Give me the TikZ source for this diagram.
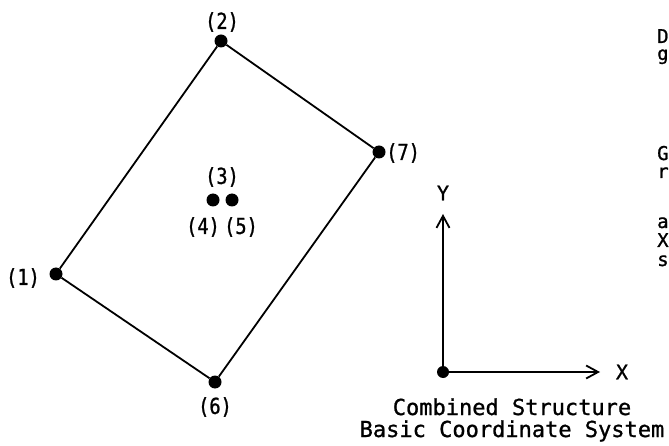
\documentclass[tikz,border=0pt]{standalone}
\usepackage{fontspec}
\setmainfont[FakeBold=1]{DejaVu Sans Mono}
\newfontfamily\labelfont[FakeStretch=0.85,FakeBold=1]{DejaVu Sans Mono}
\usetikzlibrary{arrows.meta}

\begin{document}
\begin{tikzpicture}[x=1pt,y=-1pt,
  pt/.style={circle,fill,inner sep=0pt,minimum size=13pt},
  lbl/.style={font=\labelfont\fontsize{22}{22}\selectfont,inner sep=0pt},
  side/.style={font=\fontsize{19}{19}\selectfont,anchor=base west,inner sep=0pt},
  capt/.style={font=\fontsize{22}{22}\selectfont,anchor=base,inner sep=0pt},
  edge/.style={line width=1.8pt},
  axis/.style={line width=1.8pt,-{Straight Barb[length=12pt,width=13pt,line width=1.8pt]}}]
  \useasboundingbox (0,0) rectangle (669,446);
  \node[pt] (n1) at (56,274) {};
  \node[pt] (n2) at (221,41) {};
  \node[pt] (n7) at (379,152) {};
  \node[pt] (n6) at (215,382) {};
  \node[pt] (n4) at (213,200) {};
  \node[pt] (n5) at (232,200) {};
  \draw[edge] (n1) -- (n2) -- (n7) -- (n6) -- (n1);
  \node[lbl] (l1) at (23,278) {(1)};
  \node[lbl] (l2) at (222,22) {(2)};
  \node[lbl] (l3) at (222,177) {(3)};
  \node[lbl] (l4) at (203,227) {(4)};
  \node[lbl] (l5) at (241,227) {(5)};
  \node[lbl] (l6) at (215,407) {(6)};
  \node[lbl,anchor=west] (l7) at (386,153) {(7)};
  % basic coordinate system
  \node[pt,minimum size=12pt] (o) at (443,372) {};
  \coordinate (ytip) at (443,214);
  \coordinate (xtip) at (600,372);
  \draw[axis] (o.center) -- (ytip);
  \draw[axis] (o.center) -- (xtip);
  \node[font=\fontsize{20}{20}\selectfont] (ylab) at (443,193) {Y};
  \node[font=\fontsize{20}{20}\selectfont] (xlab) at (622,372) {X};
  \node[capt] (cap1) at (512,415) {Combined Structure};
  \node[capt] (cap2) at (512,437) {Basic Coordinate System};
  % text cut off at the right edge
  \node[side] (t1) at (657,43) {D};
  \node[side] (t2) at (657,60) {g};
  \node[side] (t3) at (657,160) {G};
  \node[side] (t4) at (657,178) {r};
  \node[side] (t5) at (657,228) {ar};
  \node[side] (t6) at (657,247) {X};
  \node[side] (t7) at (657,266) {st};
\end{tikzpicture}
\end{document}
